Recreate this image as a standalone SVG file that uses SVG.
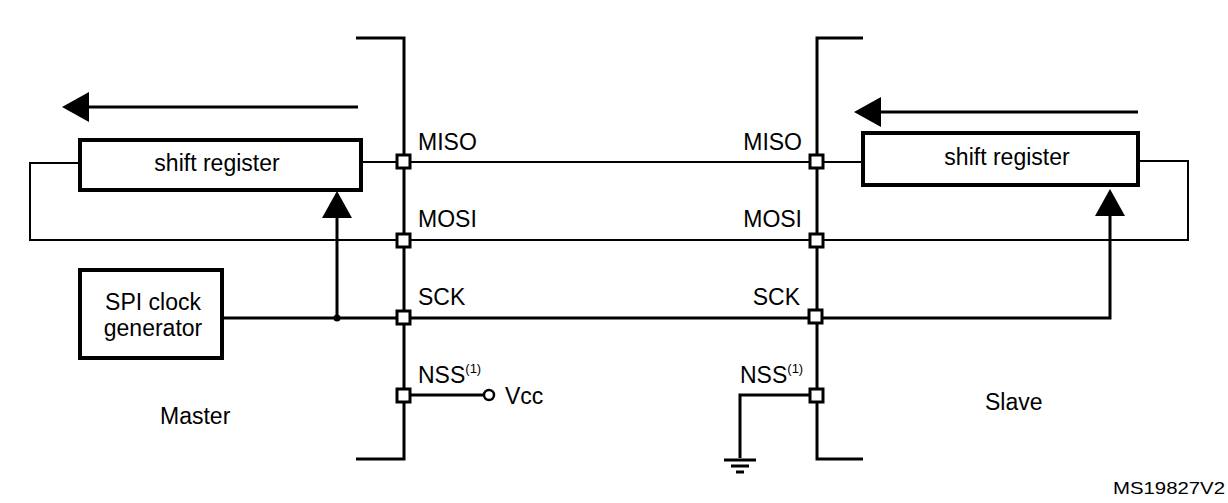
<svg xmlns="http://www.w3.org/2000/svg" width="1228" height="503" viewBox="0 0 1228 503">
<style>
text{font-family:"Liberation Sans",Arial,sans-serif;fill:#000}
.t{font-size:23px}
.s{font-size:13px}
.w{fill:none;stroke:#000;stroke-width:3}
.thin{fill:none;stroke:#000;stroke-width:2}
.pin{fill:#fff;stroke:#000;stroke-width:3}
.box{fill:#fff;stroke:#000;stroke-width:4}
</style>
<rect width="1228" height="503" fill="#fff"/>
<g id="connectors">
<path class="w" d="M356 38H404V459H356"/>
<path class="w" d="M863 38H817V459H863"/>
<path class="thin" d="M361 162H863"/>
<path class="thin" d="M80 163H30V240H1188V161H1138"/>
<path class="w" d="M222 318H1110V212"/>
<path class="w" d="M337 318V214"/>
<circle cx="337" cy="318" r="3.5"/>
<path class="w" d="M358 107H76"/>
<polygon points="62,107 89,92 89,122"/>
<path class="w" d="M1138 112H868"/>
<polygon points="854,112 881,97 881,127"/>
<polygon points="337,191 322,218 352,218"/>
<polygon points="1110,189 1095,216 1125,216"/>
<path class="w" d="M404 395H484"/>
<circle cx="489" cy="395" r="5" fill="#fff" stroke="#000" stroke-width="2.5"/>
<path class="w" d="M817 395H740V458"/>
<path class="w" d="M724 460H756M731 466H749M736 472H744"/>
</g>
<g id="master-shift-register"><rect class="box" x="80" y="140" width="281" height="50"/><text class="t" x="217" y="171" text-anchor="middle">shift register</text></g>
<g id="slave-shift-register"><rect class="box" x="863" y="133" width="275" height="52"/><text class="t" x="1007" y="165" text-anchor="middle">shift register</text></g>
<g id="spi-clock-generator"><rect class="box" x="80" y="270" width="142" height="88"/><text class="t" x="153" y="310" text-anchor="middle">SPI clock</text><text class="t" x="153" y="336" text-anchor="middle">generator</text></g>
<g id="master-pins">
<rect class="pin" x="397" y="155" width="13" height="13"/>
<rect class="pin" x="397" y="234" width="13" height="13"/>
<rect class="pin" x="397" y="311" width="13" height="13"/>
<rect class="pin" x="397" y="389" width="13" height="13"/>
<text class="t" x="418" y="150">MISO</text>
<text class="t" x="418" y="227">MOSI</text>
<text class="t" x="418" y="305">SCK</text>
<text class="t" x="418" y="383">NSS<tspan class="s" dy="-10">(1)</tspan></text>
<text class="t" x="505" y="404">Vcc</text>
<text class="t" x="160" y="424">Master</text>
</g>
<g id="slave-pins">
<rect class="pin" x="810" y="155" width="13" height="13"/>
<rect class="pin" x="810" y="234" width="13" height="13"/>
<rect class="pin" x="809" y="310" width="13" height="13"/>
<rect class="pin" x="810" y="389" width="13" height="13"/>
<text class="t" x="802" y="150" text-anchor="end">MISO</text>
<text class="t" x="802" y="227" text-anchor="end">MOSI</text>
<text class="t" x="800" y="305" text-anchor="end">SCK</text>
<text class="t" x="740" y="383">NSS<tspan class="s" dy="-10">(1)</tspan></text>
<text class="t" x="985" y="410">Slave</text>
</g>
<text x="1113" y="494" font-size="17" textLength="112" lengthAdjust="spacingAndGlyphs">MS19827V2</text>
</svg>
